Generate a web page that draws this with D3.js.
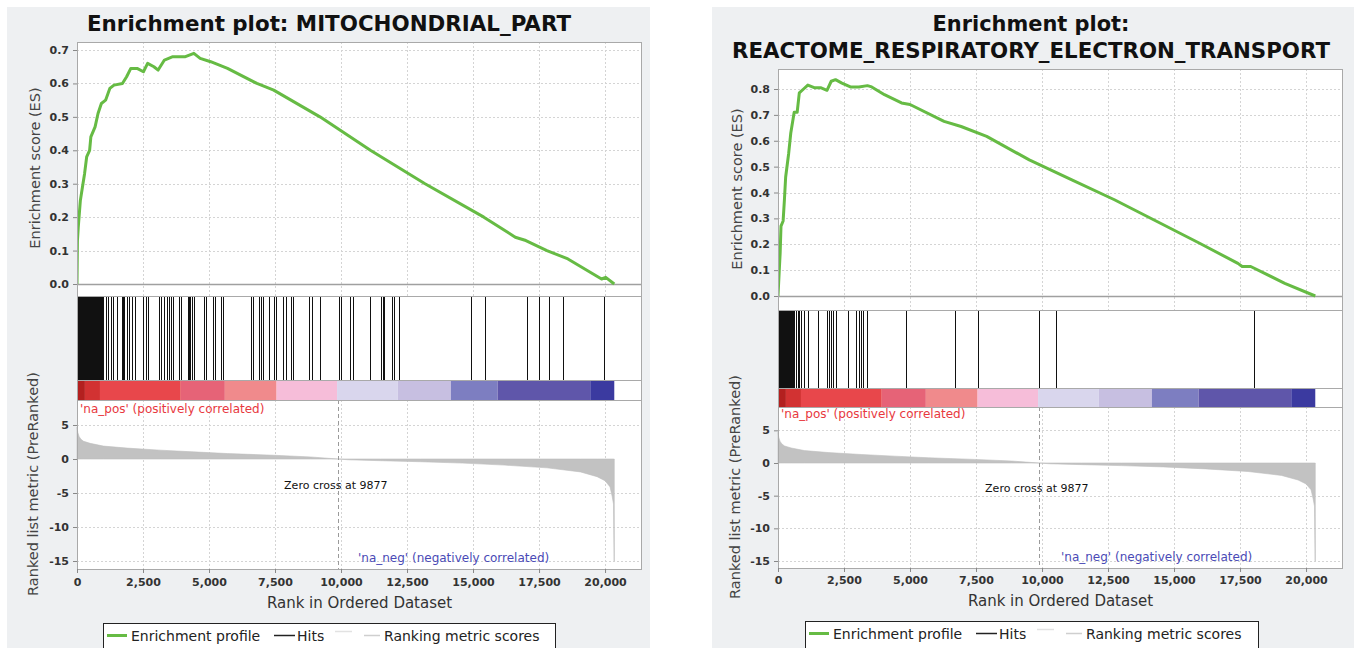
<!DOCTYPE html>
<html><head><meta charset="utf-8">
<script src="https://cdn.jsdelivr.net/npm/d3@7"></script>
<style>html,body{margin:0;padding:0;background:#fff;} svg{display:block;}</style>
</head><body>
<svg id="chart" width="1354" height="648"></svg>
<script>
// ---------------- DATA ----------------
const titlesLeft = ["Enrichment plot: MITOCHONDRIAL_PART"];
const titlesRight = ["Enrichment plot:", "REACTOME_RESPIRATORY_ELECTRON_TRANSPORT"];

const xTicks = [0, 2500, 5000, 7500, 10000, 12500, 15000, 17500, 20000];
const esTicksLeft = [0, 0.1, 0.2, 0.3, 0.4, 0.5, 0.6, 0.7];
const esTicksRight = [0, 0.1, 0.2, 0.3, 0.4, 0.5, 0.6, 0.7, 0.8];
const metricTicks = [5, 0, -5, -10, -15];

const leftEsRank = [0, 16, 48, 127, 207, 287, 366, 478, 525, 685, 796, 923, 1083, 1242, 1401, 1720, 1879, 2038, 2277, 2516, 2675, 2913, 3073, 3311, 3630, 4107, 4426, 4665, 5063, 5700, 6814, 7451, 9202, 11112, 13182, 15410, 16600, 17002, 17799, 18595, 19868, 20027, 20350];
const leftEsValue = [0, 0.13, 0.17, 0.25, 0.29, 0.33, 0.38, 0.40, 0.44, 0.47, 0.51, 0.54, 0.55, 0.585, 0.595, 0.60, 0.62, 0.645, 0.645, 0.635, 0.66, 0.65, 0.64, 0.67, 0.68, 0.68, 0.69, 0.675, 0.665, 0.645, 0.60, 0.58, 0.50, 0.40, 0.30, 0.20, 0.14, 0.13, 0.10, 0.075, 0.015, 0.02, 0];

const rightEsRank = [0, 48, 81, 113, 194, 242, 290, 403, 484, 613, 726, 807, 968, 1129, 1371, 1613, 1855, 2016, 2178, 2420, 2742, 3065, 3387, 3549, 4033, 4678, 5000, 6291, 6936, 7904, 9517, 11130, 12743, 14356, 15969, 17420, 17581, 17904, 19195, 20350];
const rightEsValue = [0, 0.10, 0.165, 0.27, 0.29, 0.37, 0.46, 0.55, 0.63, 0.71, 0.71, 0.785, 0.80, 0.815, 0.805, 0.805, 0.795, 0.83, 0.836, 0.823, 0.808, 0.808, 0.813, 0.808, 0.778, 0.746, 0.74, 0.675, 0.655, 0.617, 0.526, 0.449, 0.372, 0.288, 0.204, 0.126, 0.114, 0.114, 0.049, 0];

const leftHits = [3, 18, 34, 52, 66, 85, 101, 122, 140, 163, 185, 204, 232, 259, 283, 311, 338, 364, 392, 421, 447, 478, 506, 533, 561, 594, 622, 655, 688, 716, 748, 781, 812, 847, 879, 908, 941, 968,
  1083, 1162, 1274, 1369, 1528, 1719, 1760, 1799, 1879, 1958, 2070, 2197, 2515, 2595, 2675, 3120, 3200, 3311, 3391, 3471, 3550, 3630, 3869, 3948, 4187, 4230, 4267, 4346, 4426, 4792, 4872, 5142, 5222, 5461, 5540,
  6607, 6655, 6893, 6973, 7053, 7291, 7450, 7530, 7801, 7928, 8087, 8167, 8804, 8883, 9202, 9918, 9998, 10348, 10444, 11112, 11510, 11590, 11638, 11940, 12004, 12195, 14933, 15458, 17034, 17512, 17878, 18403, 19948];

const rightHits = [2, 15, 31, 47, 63, 80, 98, 117, 135, 156, 178, 199, 222, 247, 271, 298, 326, 355, 383, 414, 446, 478, 512, 547, 581, 610,
  677, 742, 807, 887, 968, 1129, 1532, 1855, 1936, 2016, 2097, 2178, 2661, 2952, 3065, 3145, 3226, 3387, 4839, 6694, 7581, 9872, 10517, 18033];

// ranked list metric (shared ranked list)
const metricRank = [0, 30, 80, 150, 250, 500, 1000, 1900, 3150, 4400, 5700, 7450, 8850, 9877, 10300, 11500, 13000, 14600, 16200, 17800, 19070, 19700, 20000, 20190, 20270, 20320, 20344, 20350];
const metricValue = [4.7, 3.9, 3.3, 2.9, 2.6, 2.3, 1.9, 1.6, 1.3, 1.05, 0.8, 0.55, 0.3, 0, -0.12, -0.25, -0.4, -0.6, -0.9, -1.3, -1.9, -2.6, -3.2, -4.1, -5.5, -6.6, -15, -15];

const bandStart = [0, 300, 870, 3930, 5600, 7560, 9850, 12150, 14160, 15930, 19440];
const bandColor = ["#b3201f", "#d23232", "#e8474b", "#e66377", "#f08a8c", "#f6bdd9", "#d9d6ed", "#c7bfe1", "#7d7ec1", "#5f56aa", "#3b3aa0"];
const bandEnd = 20350;
const zeroCross = 9877;
const xMax = 21400;

const legendLabels = ["Enrichment profile", "Hits", "Ranking metric scores"];

// ---------------- DRAW ----------------
const svg = d3.select("#chart");
const FONT = "'DejaVu Sans', 'Liberation Sans', sans-serif";
const GREEN = "#66bb44";

function drawPanel(p) {
  const g = svg.append("g");
  g.append("rect").attr("x", p.bgX).attr("y", 7).attr("width", p.bgW).attr("height", 641).attr("fill", "#eef0f2");

  p.titles.forEach((t, i) => {
    g.append("text").attr("x", p.titleX).attr("y", p.titleY[i])
      .attr("text-anchor", "middle").attr("font-family", FONT).attr("font-weight", "bold")
      .attr("font-size", 21).attr("fill", "#111")
      .attr("textLength", p.titleW[i]).attr("lengthAdjust", "spacingAndGlyphs").text(t);
  });

  const x = d3.scaleLinear().domain([0, xMax]).range([p.left, p.right]);
  const yES = d3.scaleLinear().domain([0, p.esTopVal]).range([p.esZero, p.esTopValY]);
  const yM = d3.scaleLinear().domain([0, -15]).range([p.mZero, p.mMin]);
  const W = p.right - p.left;

  // white plot backgrounds
  g.append("rect").attr("x", p.left).attr("y", p.esTop).attr("width", W).attr("height", p.mBottom - p.esTop).attr("fill", "#fff");

  const gridStyle = s => s.attr("stroke", "#d4d4d4").attr("stroke-width", 1).attr("stroke-dasharray", "2,2");

  // ES grid
  const esGrid = g.append("g");
  xTicks.filter(d => d > 0).forEach(d => {
    esGrid.append("line").attr("x1", Math.round(x(d)) + 0.5).attr("x2", Math.round(x(d)) + 0.5)
      .attr("y1", p.esTop).attr("y2", p.esBottom).call(gridStyle);
  });
  p.esTicks.filter(d => d > 0).forEach(d => {
    esGrid.append("line").attr("x1", p.left).attr("x2", p.right)
      .attr("y1", Math.round(yES(d)) + 0.5).attr("y2", Math.round(yES(d)) + 0.5).call(gridStyle);
  });
  // ES zero line
  g.append("line").attr("x1", p.left).attr("x2", p.right).attr("y1", Math.round(yES(0)) + 0.5).attr("y2", Math.round(yES(0)) + 0.5)
    .attr("stroke", "#a0a0a0").attr("stroke-width", 1.5);

  // ES curve
  const clipId = "clip" + p.id;
  g.append("clipPath").attr("id", clipId).append("rect")
    .attr("x", p.left).attr("y", p.esTop).attr("width", W).attr("height", p.esBottom - p.esTop);
  const esData = p.esRank.map((r, i) => [r, p.esValue[i]]);
  g.append("path").datum(esData).attr("clip-path", `url(#${clipId})`)
    .attr("d", d3.line().x(d => x(d[0])).y(d => yES(d[1])))
    .attr("fill", "none").attr("stroke", GREEN).attr("stroke-width", 3).attr("stroke-linejoin", "round");

  // hits
  const hg = g.append("g");
  p.hits.forEach(h => {
    const xx = Math.round(x(h)) + 0.5;
    hg.append("line").attr("x1", xx).attr("x2", xx).attr("y1", p.esBottom + 1).attr("y2", p.bandTop)
      .attr("stroke", "#111").attr("stroke-width", 1);
  });

  // colour bar
  bandStart.forEach((s, i) => {
    const e = i < bandStart.length - 1 ? bandStart[i + 1] : bandEnd;
    g.append("rect").attr("x", x(s)).attr("y", p.bandTop).attr("width", x(e) - x(s)).attr("height", p.bandBottom - p.bandTop)
      .attr("fill", bandColor[i]);
  });

  // metric grid
  const mg = g.append("g");
  xTicks.filter(d => d > 0).forEach(d => {
    mg.append("line").attr("x1", Math.round(x(d)) + 0.5).attr("x2", Math.round(x(d)) + 0.5)
      .attr("y1", p.bandBottom).attr("y2", p.mBottom).call(gridStyle);
  });
  metricTicks.filter(d => d !== 0).forEach(d => {
    mg.append("line").attr("x1", p.left).attr("x2", p.right)
      .attr("y1", Math.round(yM(d)) + 0.5).attr("y2", Math.round(yM(d)) + 0.5).call(gridStyle);
  });

  // metric area
  const mData = metricRank.map((r, i) => [r, metricValue[i]]);
  g.append("path").datum(mData)
    .attr("d", d3.area().x(d => x(d[0])).y0(yM(0)).y1(d => yM(d[1])))
    .attr("fill", "#c2c2c2").attr("stroke", "#bdbdbd").attr("stroke-width", 0.6);

  // zero cross dashed line
  g.append("line").attr("x1", Math.round(x(zeroCross)) + 0.5).attr("x2", Math.round(x(zeroCross)) + 0.5)
    .attr("y1", p.bandBottom).attr("y2", p.mBottom)
    .attr("stroke", "#9a9a9a").attr("stroke-width", 1).attr("stroke-dasharray", "4,3");

  // borders
  const border = (y0, y1) => g.append("rect").attr("x", p.left + 0.5).attr("y", y0 + 0.5)
    .attr("width", W - 1).attr("height", y1 - y0).attr("fill", "none").attr("stroke", "#a9a9a9").attr("stroke-width", 1);
  border(p.esTop, p.esBottom);
  border(p.esBottom, p.bandTop);
  border(p.bandTop, p.bandBottom);
  border(p.bandBottom, p.mBottom);

  // axes
  const styleAxis = a => {
    a.select(".domain").remove();
    a.selectAll(".tick line").attr("stroke", "#888");
    a.selectAll(".tick text").attr("font-family", FONT).attr("font-weight", "bold").attr("font-size", 11).attr("fill", "#333");
  };
  g.append("g").attr("transform", `translate(${p.left},0)`)
    .call(d3.axisLeft(yES).tickValues(p.esTicks).tickFormat(d3.format(".1f")).tickSize(4).tickPadding(4)).call(styleAxis);
  g.append("g").attr("transform", `translate(${p.left},0)`)
    .call(d3.axisLeft(yM).tickValues(metricTicks).tickFormat(d => String(d)).tickSize(4).tickPadding(4)).call(styleAxis);
  g.append("g").attr("transform", `translate(0,${p.mBottom})`)
    .call(d3.axisBottom(x).tickValues(xTicks).tickFormat(d3.format(",")).tickSize(4).tickPadding(p.xPad)).call(styleAxis);

  // axis titles
  g.append("text").attr("x", (p.left + p.right) / 2).attr("y", p.xTitleY).attr("text-anchor", "middle")
    .attr("font-family", FONT).attr("font-size", 15).attr("fill", "#333").text("Rank in Ordered Dataset");
  g.append("text").attr("transform", `translate(${p.yl1[0]},${p.yl1[1]}) rotate(-90)`).attr("text-anchor", "middle")
    .attr("dominant-baseline", "central").attr("font-family", FONT).attr("font-size", 14.5).attr("fill", "#444")
    .text("Enrichment score (ES)");
  g.append("text").attr("transform", `translate(${p.yl2[0]},${p.yl2[1]}) rotate(-90)`).attr("text-anchor", "middle")
    .attr("dominant-baseline", "central").attr("font-family", FONT).attr("font-size", 14.5).attr("fill", "#444")
    .text("Ranked list metric (PreRanked)");

  // annotations
  g.append("text").attr("x", p.left + 3).attr("y", p.naPosY).attr("font-family", FONT).attr("font-size", 12)
    .attr("fill", "#e8383e").text("'na_pos' (positively correlated)");
  g.append("text").attr("x", p.naNegX).attr("y", p.naNegY).attr("font-family", FONT).attr("font-size", 12)
    .attr("fill", "#4a4ab6").text("'na_neg' (negatively correlated)");
  g.append("text").attr("x", x(zeroCross) - 2).attr("y", p.zcY).attr("text-anchor", "middle").attr("font-family", FONT)
    .attr("font-size", 11).attr("fill", "#111").text("Zero cross at " + zeroCross);

  // legend
  const L = p.legX, LY = p.legY;
  g.append("rect").attr("x", L + 0.5).attr("y", LY + 0.5).attr("width", p.legW).attr("height", 40)
    .attr("fill", "#fff").attr("stroke", "#222").attr("stroke-width", 1);
  const ly = LY + 12.5;
  g.append("line").attr("x1", L + 4).attr("x2", L + 24).attr("y1", ly).attr("y2", ly).attr("stroke", GREEN).attr("stroke-width", 3);
  g.append("text").attr("x", L + 28).attr("y", ly + 5).attr("font-family", FONT).attr("font-size", 14).attr("fill", "#222").text(legendLabels[0]);
  g.append("line").attr("x1", L + 171).attr("x2", L + 192).attr("y1", ly).attr("y2", ly).attr("stroke", "#222").attr("stroke-width", 1.5);
  g.append("text").attr("x", L + 194).attr("y", ly + 5).attr("font-family", FONT).attr("font-size", 14).attr("fill", "#222").text(legendLabels[1]);
  g.append("line").attr("x1", L + 232).attr("x2", L + 249).attr("y1", ly - 4).attr("y2", ly - 4).attr("stroke", "#e2e2e2").attr("stroke-width", 1.5);
  g.append("line").attr("x1", L + 261).attr("x2", L + 277).attr("y1", ly).attr("y2", ly).attr("stroke", "#cfcfcf").attr("stroke-width", 1.5);
  g.append("text").attr("x", L + 281).attr("y", ly + 5).attr("font-family", FONT).attr("font-size", 14).attr("fill", "#222").text(legendLabels[2]);
}

drawPanel({
  id: "L", bgX: 7, bgW: 643, titles: titlesLeft, titleX: 329, titleY: [31], titleW: [484],
  left: 77, right: 642, esTop: 42, esBottom: 296, esZero: 284, esTopVal: 0.7, esTopValY: 50, esTicks: esTicksLeft,
  esRank: leftEsRank, esValue: leftEsValue, hits: leftHits,
  bandTop: 380, bandBottom: 400, mBottom: 569, mZero: 459, mMin: 561, xPad: 5, xTitleY: 608,
  yl1: [35, 168], yl2: [33, 484], naPosY: 413, naNegX: 358, naNegY: 562, zcY: 489,
  legX: 103, legY: 623, legW: 452
});
drawPanel({
  id: "R", bgX: 712, bgW: 642, titles: titlesRight, titleX: 1031, titleY: [31, 58], titleW: [197, 598],
  left: 778, right: 1343, esTop: 69, esBottom: 310, esZero: 296, esTopVal: 0.8, esTopValY: 89, esTicks: esTicksRight,
  esRank: rightEsRank, esValue: rightEsValue, hits: rightHits,
  bandTop: 388, bandBottom: 407, mBottom: 568, mZero: 463, mMin: 561, xPad: 4, xTitleY: 606,
  yl1: [737, 189], yl2: [735, 487], naPosY: 418, naNegX: 1061, naNegY: 561, zcY: 492,
  legX: 805, legY: 621, legW: 453
});
</script>
</body></html>
